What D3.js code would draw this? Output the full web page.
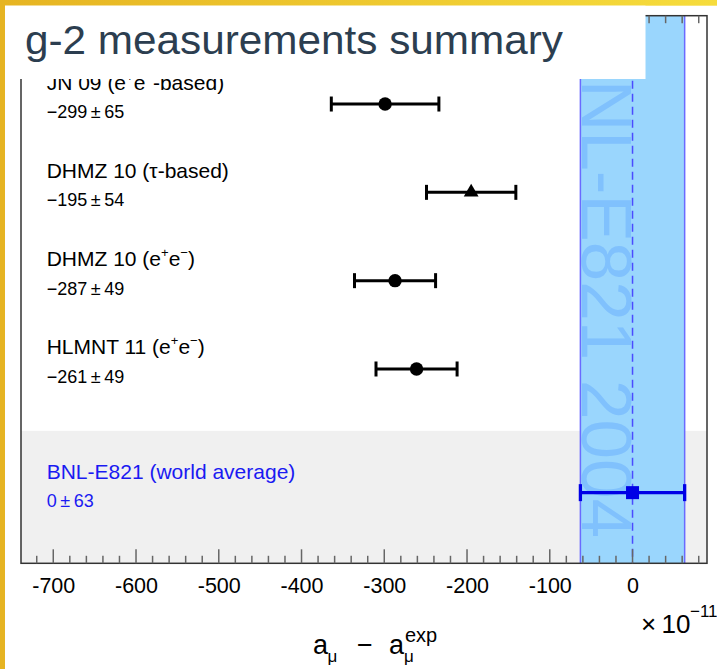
<!DOCTYPE html>
<html>
<head>
<meta charset="utf-8">
<script src="https://cdn.jsdelivr.net/npm/d3@7"></script>
<style>
  html, body { margin: 0; padding: 0; background: #ffffff; }
  svg { display: block; }
  text { font-family: "Liberation Sans", Arial, Helvetica, sans-serif; }
</style>
</head>
<body>
<script>
// Theory evaluations of a_mu compared with the BNL-E821 measurement (units of 1e-11)
const measurementNames = ["JN 09 (e^+e^−-based)", "DHMZ 10 (τ-based)", "DHMZ 10 (e^+e^−)", "HLMNT 11 (e^+e^−)"];
const centralValues = [-299, -195, -287, -261];
const uncertainties = [65, 54, 49, 49];
const markerShapes = ["circle", "triangle", "circle", "circle"];
const rowIndex = [1, 2, 3, 4];

const referenceName = "BNL-E821 (world average)";
const referenceValue = 0;
const referenceUncertainty = 63;
const referenceRow = 5.4;
const referenceTag = "BNL-E821 2004";

const xTickValues = [-700, -600, -500, -400, -300, -200, -100, 0];
const xMinorTicks = d3.range(-720, 81, 20);
const titleText = "g-2 measurements summary";

const W = 717, H = 669;
const svg = d3.select("body").append("svg").attr("width", W).attr("height", H);

const frame = { left: 21, right: 707, top: 15.7, bottom: 563.3 };
const x = d3.scaleLinear().domain([-739, 90]).range([frame.left, frame.right]);
const y = d3.scaleLinear().domain([0, 6.2]).range([frame.top, frame.bottom]);

// slide decoration: gold strips on the top and left edges
const defs = svg.append("defs");
const grad = defs.append("linearGradient").attr("id", "gold").attr("x1", "0").attr("x2", "1");
grad.append("stop").attr("offset", "0").attr("stop-color", "#e6b422");
grad.append("stop").attr("offset", "1").attr("stop-color", "#f6dc3c");
svg.append("rect").attr("x", 0).attr("y", 0).attr("width", W).attr("height", 5.7).attr("fill", "url(#gold)");
svg.append("rect").attr("x", 0).attr("y", 0).attr("width", 5).attr("height", H).attr("fill", "#e6b422");

// shaded region behind the experimental entry
svg.append("rect")
  .attr("x", frame.left).attr("y", y(4.7))
  .attr("width", frame.right - frame.left).attr("height", frame.bottom - y(4.7))
  .attr("fill", "#f0f0f0");

// experimental uncertainty band
const bandL = x(referenceValue - referenceUncertainty), bandR = x(referenceValue + referenceUncertainty);
svg.append("rect")
  .attr("x", bandL).attr("y", frame.top)
  .attr("width", bandR - bandL).attr("height", frame.bottom - frame.top)
  .attr("fill", "#9ad6fd");

svg.append("text")
  .attr("transform", `translate(${bandL + 1.5},${538}) rotate(90)`)
  .attr("text-anchor", "end")
  .attr("font-size", 71)
  .attr("fill", "#80c1fd")
  .text(referenceTag);

[bandL, bandR].forEach(px => {
  svg.append("line").attr("x1", px).attr("x2", px).attr("y1", frame.top).attr("y2", frame.bottom)
    .attr("stroke", "#6a6aff").attr("stroke-width", 1.5);
});
svg.append("line")
  .attr("x1", x(referenceValue)).attr("x2", x(referenceValue))
  .attr("y1", frame.top).attr("y2", frame.bottom)
  .attr("stroke", "#4b4bff").attr("stroke-width", 1.5).attr("stroke-dasharray", "8,5");

// frame and ticks
svg.append("rect")
  .attr("x", frame.left).attr("y", frame.top)
  .attr("width", frame.right - frame.left).attr("height", frame.bottom - frame.top)
  .attr("fill", "none").attr("stroke", "#333").attr("stroke-width", 1.5);

const tickG = svg.append("g");
xMinorTicks.forEach(v => {
  const major = v % 100 === 0;
  const len = major ? 14 : 7.5;
  tickG.append("line").attr("x1", x(v)).attr("x2", x(v))
    .attr("y1", frame.bottom).attr("y2", frame.bottom - len)
    .attr("stroke", "#666").attr("stroke-width", 1.5);
  tickG.append("line").attr("x1", x(v)).attr("x2", x(v))
    .attr("y1", frame.top).attr("y2", frame.top + len)
    .attr("stroke", "#666").attr("stroke-width", 1.5);
});

const xAxis = d3.axisBottom(x).tickValues(xTickValues).tickSize(0).tickPadding(0)
  .tickFormat(d => String(d));
const axisG = svg.append("g").attr("transform", `translate(0,${frame.bottom})`).call(xAxis);
axisG.select(".domain").remove();
axisG.selectAll("text")
  .attr("y", 30).attr("dy", 0)
  .attr("font-size", 21.5)
  .attr("font-family", "'Liberation Sans', Arial, sans-serif")
  .attr("fill", "#000");

// label text with ^x superscripts
function richLabel(g, str, size, supSize) {
  const parts = str.split(/(\^.)/);
  parts.forEach(p => {
    if (!p) return;
    if (p[0] === "^") {
      g.append("tspan").attr("font-size", supSize).attr("baseline-shift", size * 0.42).text(p.slice(1));
    } else {
      g.append("tspan").text(p);
    }
  });
}

const labelX = 46.7;
const rows = svg.append("g");
measurementNames.forEach((name, i) => {
  const yy = y(rowIndex[i]);
  const t = rows.append("text").attr("x", labelX).attr("y", yy - 14.5).attr("font-size", 21).attr("fill", "#000");
  richLabel(t, name, 21, 13);
  rows.append("text").attr("x", labelX).attr("y", yy + 14).attr("font-size", 18).attr("fill", "#000")
    .text(`−${Math.abs(centralValues[i])}\u2009±\u2009${uncertainties[i]}`);

  const lo = x(centralValues[i] - uncertainties[i]), hi = x(centralValues[i] + uncertainties[i]);
  rows.append("line").attr("x1", lo).attr("x2", hi).attr("y1", yy).attr("y2", yy)
    .attr("stroke", "#000").attr("stroke-width", 3);
  [lo, hi].forEach(px => rows.append("line").attr("x1", px).attr("x2", px)
    .attr("y1", yy - 7.5).attr("y2", yy + 7.5).attr("stroke", "#000").attr("stroke-width", 3));
  const cx = x(centralValues[i]);
  if (markerShapes[i] === "circle") {
    rows.append("circle").attr("cx", cx).attr("cy", yy).attr("r", 6.7).attr("fill", "#000");
  } else {
    rows.append("path")
      .attr("transform", `translate(${cx},${yy})`)
      .attr("d", d3.symbol().type(d3.symbolTriangle).size(95)())
      .attr("fill", "#000");
  }
});

// experimental entry
const ry = y(referenceRow);
const blue = "#0000e6";
svg.append("text").attr("x", labelX).attr("y", ry - 13.5).attr("font-size", 21).attr("fill", "#1a1af2")
  .text(referenceName);
svg.append("text").attr("x", labelX).attr("y", ry + 14.3).attr("font-size", 18).attr("fill", "#1a1af2")
  .text(`${referenceValue}\u2009±\u2009${referenceUncertainty}`);
svg.append("line").attr("x1", bandL).attr("x2", bandR).attr("y1", ry).attr("y2", ry)
  .attr("stroke", blue).attr("stroke-width", 3.3);
[bandL, bandR].forEach(px => svg.append("line").attr("x1", px).attr("x2", px)
  .attr("y1", ry - 8.5).attr("y2", ry + 8.5).attr("stroke", blue).attr("stroke-width", 3.3));
svg.append("rect").attr("x", x(referenceValue) - 6.5).attr("y", ry - 6.5)
  .attr("width", 13).attr("height", 13).attr("fill", blue);

// axis title: a_mu - a_mu^exp
const at = svg.append("g").attr("fill", "#000");
at.append("text").attr("x", 313).attr("y", 654).attr("font-size", 27).text("a");
at.append("text").attr("x", 327.5).attr("y", 662).attr("font-size", 17).text("μ");
at.append("text").attr("x", 357).attr("y", 654).attr("font-size", 27).text("−");
at.append("text").attr("x", 389).attr("y", 654).attr("font-size", 27).text("a");
at.append("text").attr("x", 404).attr("y", 662).attr("font-size", 17).text("μ");
at.append("text").attr("x", 405).attr("y", 641.5).attr("font-size", 20).text("exp");

// exponent of the x axis
const ex = svg.append("g").attr("fill", "#000");
ex.append("text").attr("x", 641).attr("y", 633).attr("font-size", 26).text("×");
ex.append("text").attr("x", 661.5).attr("y", 633).attr("font-size", 26).text("10");
ex.append("text").attr("x", 690).attr("y", 617).attr("font-size", 17).text("−11");

// slide title on a white panel
svg.append("rect").attr("x", 5).attr("y", 5.7).attr("width", 640.5).attr("height", 73.3).attr("fill", "#ffffff");
svg.append("text").attr("x", 25).attr("y", 53.5)
  .attr("font-size", 40)
  .attr("fill", "#2c3e50")
  .attr("textLength", 538).attr("lengthAdjust", "spacingAndGlyphs")
  .text(titleText);
</script>
</body>
</html>
